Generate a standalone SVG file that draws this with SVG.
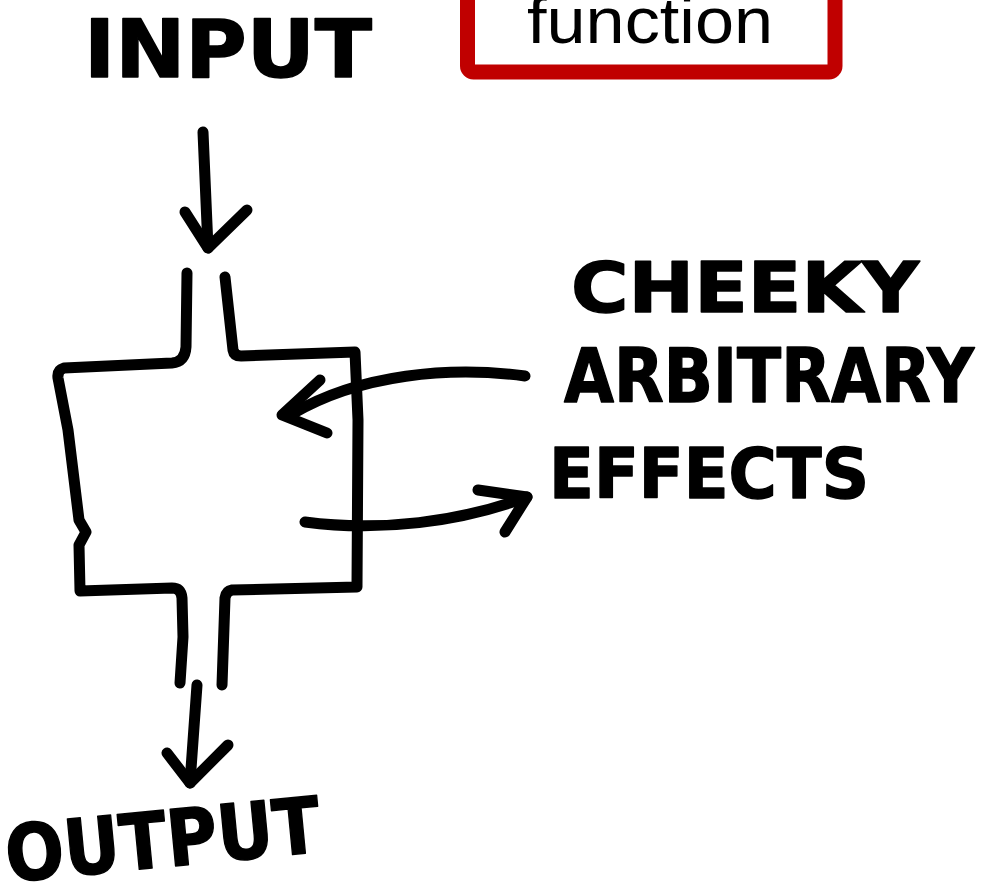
<svg xmlns="http://www.w3.org/2000/svg" width="992" height="894" viewBox="0 0 992 894">
  <style>
    .ink { fill: none; stroke: #000; stroke-width: 11; stroke-linecap: round; stroke-linejoin: round; }
    .hand { font-family: "DejaVu Sans", "Liberation Sans", sans-serif; font-weight: bold; fill: #000; stroke: #000; stroke-width: 1.5; stroke-linejoin: round; }
    .label { font-family: "Liberation Sans", Arial, sans-serif; fill: #000; }
  </style>
  <rect width="992" height="894" fill="#fff"/>

  <g id="node-function">
    <rect x="467.5" y="-30" width="367.5" height="102" rx="6" fill="#fff" stroke="#C00000" stroke-width="15"/>
    <text class="label" x="527" y="43" font-size="64" textLength="246" lengthAdjust="spacingAndGlyphs">function</text>
  </g>

  <g id="node-input">
    <text class="hand" x="84" y="77" font-size="80" textLength="288" lengthAdjust="spacingAndGlyphs">INPUT</text>
  </g>

  <g id="node-box">
    <path class="ink" d="M187,273 L186,347 Q185,362 172,363 L64,368 Q57,370 58,378 L68,430 L79,520 L86,532 L79,545 L80,591 L172,588 Q181,588 182,598 L183,637 L180,683"/>
    <path class="ink" d="M225,277 L233,350 Q234,356 241,356 L355,352 L358,420 L357,587 L232,590 Q226,591 225,598 L222,685"/>
  </g>

  <g id="node-effects">
    <text class="hand" x="571" y="312" font-size="69" textLength="348" lengthAdjust="spacingAndGlyphs">CHEEKY</text>
    <text class="hand" x="564" y="402" font-size="74" textLength="410" lengthAdjust="spacingAndGlyphs">ARBITRARY</text>
    <text class="hand" x="549" y="498" font-size="70" textLength="320" lengthAdjust="spacingAndGlyphs">EFFECTS</text>
  </g>

  <g id="node-output">
    <text class="hand" x="8" y="882" font-size="78" textLength="316" lengthAdjust="spacingAndGlyphs" transform="rotate(-5.5 8 882)">OUTPUT</text>
  </g>

  <g id="connectors">
    <path class="ink" d="M203,132 L208,248"/>
    <path class="ink" d="M185,212 L208,248 L247,210"/>
    <path class="ink" d="M197,685 L190,783"/>
    <path class="ink" d="M167,753 L190,783 L228,745"/>
    <path class="ink" d="M525,376 C450,366 360,374 292,414"/>
    <path class="ink" d="M320,380 L282,415 L327,433"/>
    <path class="ink" d="M305,522 C380,532 460,522 527,497"/>
    <path class="ink" d="M478,490 L527,497 L505,532"/>
  </g>
</svg>
